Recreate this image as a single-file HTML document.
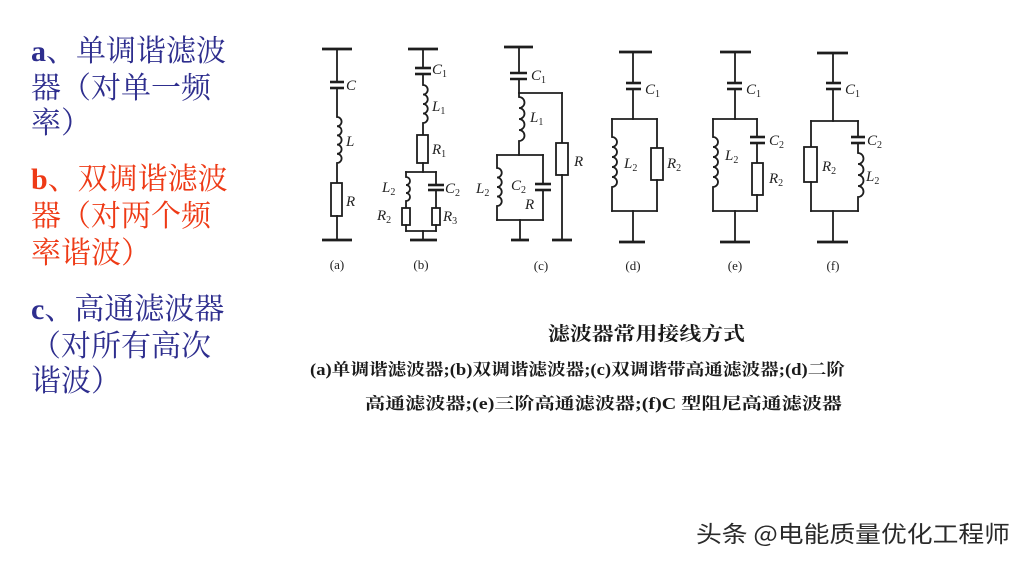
<!DOCTYPE html>
<html>
<head>
<meta charset="utf-8">
<style>
html,body{margin:0;padding:0;background:#fff;}
svg{display:block;}
.w{stroke:#1e1e1e;stroke-width:1.8;fill:none;stroke-linecap:square;}
.bar{stroke:#1e1e1e;stroke-width:2.8;fill:none;}
.cap{stroke:#1e1e1e;stroke-width:2.6;fill:none;}
.res{stroke:#1e1e1e;stroke-width:1.8;fill:#fff;}
.lb{font-family:"Liberation Serif",serif;font-style:italic;font-size:15px;fill:#1e1e1e;}
.sb{font-size:10px;font-style:normal;}
.tag{font-family:"Liberation Serif",serif;font-size:13px;fill:#1e1e1e;}
.cap1{font-family:"Liberation Serif","Noto Serif CJK SC",serif;font-weight:bold;fill:#1a1a1a;}
.lt{font-family:"Liberation Serif","Noto Serif CJK SC",serif;font-size:30px;}
.blue{fill:#2e2e8e;}
.red{fill:#ee3a16;}
</style>
</head>
<body>
<svg width="1027" height="563" viewBox="0 0 1027 563" xmlns="http://www.w3.org/2000/svg">
<rect width="1027" height="563" fill="#fff"/>

<!-- Left text -->
<g class="lt">
<text x="31" y="61" class="blue"><tspan font-weight="bold">a</tspan>、单调谐滤波</text>
<text x="31" y="98" class="blue">器（对单一频</text>
<text x="31" y="133" class="blue">率）</text>
<text x="31" y="189" class="red"><tspan font-weight="bold">b</tspan>、双调谐滤波</text>
<text x="31" y="226" class="red">器（对两个频</text>
<text x="31" y="263" class="red">率谐波）</text>
<text x="31" y="319" class="blue"><tspan font-weight="bold">c</tspan>、高通滤波器</text>
<text x="31" y="356" class="blue">（对所有高次</text>
<text x="31" y="391" class="blue">谐波）</text>
</g>

<!-- Circuit (a) -->
<g>
<line class="bar" x1="322" y1="49" x2="352" y2="49"/>
<line class="w" x1="337" y1="49" x2="337" y2="82"/>
<line class="cap" x1="330" y1="82" x2="344" y2="82"/>
<line class="cap" x1="330" y1="88" x2="344" y2="88"/>
<path class="w" d="M337 88 V117 a4.6 4.6 0 0 1 0 9.2 a4.6 4.6 0 0 1 0 9.2 a4.6 4.6 0 0 1 0 9.2 a4.6 4.6 0 0 1 0 9.2 a4.6 4.6 0 0 1 0 9.2 V183"/>
<rect class="res" x="331" y="183" width="11" height="33"/>
<line class="w" x1="337" y1="216" x2="337" y2="240"/>
<line class="bar" x1="322" y1="240" x2="352" y2="240"/>
<text class="lb" x="346" y="90">C</text>
<text class="lb" x="346" y="146">L</text>
<text class="lb" x="346" y="206">R</text>
<text class="tag" x="337" y="269" text-anchor="middle">(a)</text>
</g>

<!-- Circuit (b) -->
<g>
<line class="bar" x1="408" y1="49" x2="438" y2="49"/>
<line class="w" x1="423" y1="49" x2="423" y2="68"/>
<line class="cap" x1="415" y1="68" x2="431" y2="68"/>
<line class="cap" x1="415" y1="74" x2="431" y2="74"/>
<path class="w" d="M423 74 V85 a4.75 4.75 0 0 1 0 9.5 a4.75 4.75 0 0 1 0 9.5 a4.75 4.75 0 0 1 0 9.5 a4.75 4.75 0 0 1 0 9.5 V135"/>
<rect class="res" x="417" y="135" width="11" height="28"/>
<line class="w" x1="423" y1="163" x2="423" y2="172"/>
<line class="w" x1="406" y1="172" x2="436" y2="172"/>
<path class="w" d="M406 172 V177 a4 4 0 0 1 0 8 a4 4 0 0 1 0 8 a4 4 0 0 1 0 8 V208"/>
<rect class="res" x="402" y="208" width="8" height="17"/>
<line class="w" x1="406" y1="225" x2="406" y2="231"/>
<line class="w" x1="436" y1="172" x2="436" y2="185"/>
<line class="cap" x1="428" y1="185" x2="444" y2="185"/>
<line class="cap" x1="428" y1="190" x2="444" y2="190"/>
<line class="w" x1="436" y1="190" x2="436" y2="208"/>
<rect class="res" x="432" y="208" width="8" height="17"/>
<line class="w" x1="436" y1="225" x2="436" y2="231"/>
<line class="w" x1="406" y1="231" x2="436" y2="231"/>
<line class="w" x1="423" y1="231" x2="423" y2="240"/>
<line class="bar" x1="410" y1="240" x2="437" y2="240"/>
<text class="lb" x="432" y="74">C<tspan class="sb" dy="3">1</tspan></text>
<text class="lb" x="432" y="111">L<tspan class="sb" dy="3">1</tspan></text>
<text class="lb" x="432" y="154">R<tspan class="sb" dy="3">1</tspan></text>
<text class="lb" x="382" y="192">L<tspan class="sb" dy="3">2</tspan></text>
<text class="lb" x="445" y="193">C<tspan class="sb" dy="3">2</tspan></text>
<text class="lb" x="377" y="220">R<tspan class="sb" dy="3">2</tspan></text>
<text class="lb" x="443" y="221">R<tspan class="sb" dy="3">3</tspan></text>
<text class="tag" x="421" y="269" text-anchor="middle">(b)</text>
</g>

<!-- Circuit (c) -->
<g>
<line class="bar" x1="504" y1="47" x2="533" y2="47"/>
<line class="w" x1="519" y1="47" x2="519" y2="73"/>
<line class="cap" x1="510" y1="73" x2="527" y2="73"/>
<line class="cap" x1="510" y1="79" x2="527" y2="79"/>
<line class="w" x1="519" y1="79" x2="519" y2="93"/>
<line class="w" x1="519" y1="93" x2="562" y2="93"/>
<line class="w" x1="562" y1="93" x2="562" y2="143"/>
<rect class="res" x="556" y="143" width="12" height="32"/>
<line class="w" x1="562" y1="175" x2="562" y2="240"/>
<line class="bar" x1="552" y1="240" x2="572" y2="240"/>
<path class="w" d="M519 93 V97 a5.5 5.5 0 0 1 0 11 a5.5 5.5 0 0 1 0 11 a5.5 5.5 0 0 1 0 11 a5.5 5.5 0 0 1 0 11 V155"/>
<line class="w" x1="497" y1="155" x2="543" y2="155"/>
<path class="w" d="M497 155 V168 a4.75 4.75 0 0 1 0 9.5 a4.75 4.75 0 0 1 0 9.5 a4.75 4.75 0 0 1 0 9.5 a4.75 4.75 0 0 1 0 9.5 V220"/>
<line class="w" x1="543" y1="155" x2="543" y2="184"/>
<line class="cap" x1="535" y1="184" x2="551" y2="184"/>
<line class="cap" x1="535" y1="190" x2="551" y2="190"/>
<line class="w" x1="543" y1="190" x2="543" y2="220"/>
<line class="w" x1="497" y1="220" x2="543" y2="220"/>
<line class="w" x1="520" y1="220" x2="520" y2="240"/>
<line class="bar" x1="511" y1="240" x2="529" y2="240"/>
<text class="lb" x="531" y="80">C<tspan class="sb" dy="3">1</tspan></text>
<text class="lb" x="530" y="122">L<tspan class="sb" dy="3">1</tspan></text>
<text class="lb" x="574" y="166">R</text>
<text class="lb" x="476" y="193">L<tspan class="sb" dy="3">2</tspan></text>
<text class="lb" x="511" y="190">C<tspan class="sb" dy="3">2</tspan></text>
<text class="lb" x="525" y="209">R</text>
<text class="tag" x="541" y="270" text-anchor="middle">(c)</text>
</g>

<!-- Circuit (d) -->
<g>
<line class="bar" x1="619" y1="52" x2="652" y2="52"/>
<line class="w" x1="633" y1="52" x2="633" y2="83"/>
<line class="cap" x1="626" y1="83" x2="641" y2="83"/>
<line class="cap" x1="626" y1="89" x2="641" y2="89"/>
<line class="w" x1="633" y1="89" x2="633" y2="119"/>
<line class="w" x1="612" y1="119" x2="657" y2="119"/>
<path class="w" d="M612 119 V137 a5 5 0 0 1 0 10 a5 5 0 0 1 0 10 a5 5 0 0 1 0 10 a5 5 0 0 1 0 10 a5 5 0 0 1 0 10 V211"/>
<line class="w" x1="657" y1="119" x2="657" y2="148"/>
<rect class="res" x="651" y="148" width="12" height="32"/>
<line class="w" x1="657" y1="180" x2="657" y2="211"/>
<line class="w" x1="612" y1="211" x2="657" y2="211"/>
<line class="w" x1="633" y1="211" x2="633" y2="242"/>
<line class="bar" x1="619" y1="242" x2="645" y2="242"/>
<text class="lb" x="645" y="94">C<tspan class="sb" dy="3">1</tspan></text>
<text class="lb" x="624" y="168">L<tspan class="sb" dy="3">2</tspan></text>
<text class="lb" x="667" y="168">R<tspan class="sb" dy="3">2</tspan></text>
<text class="tag" x="633" y="270" text-anchor="middle">(d)</text>
</g>

<!-- Circuit (e) -->
<g>
<line class="bar" x1="720" y1="52" x2="751" y2="52"/>
<line class="w" x1="735" y1="52" x2="735" y2="83"/>
<line class="cap" x1="727" y1="83" x2="742" y2="83"/>
<line class="cap" x1="727" y1="89" x2="742" y2="89"/>
<line class="w" x1="735" y1="89" x2="735" y2="119"/>
<line class="w" x1="713" y1="119" x2="757" y2="119"/>
<path class="w" d="M713 119 V137 a5 5 0 0 1 0 10 a5 5 0 0 1 0 10 a5 5 0 0 1 0 10 a5 5 0 0 1 0 10 a5 5 0 0 1 0 10 V211"/>
<line class="w" x1="757" y1="119" x2="757" y2="137"/>
<line class="cap" x1="750" y1="137" x2="765" y2="137"/>
<line class="cap" x1="750" y1="143" x2="765" y2="143"/>
<line class="w" x1="757" y1="143" x2="757" y2="163"/>
<rect class="res" x="752" y="163" width="11" height="32"/>
<line class="w" x1="757" y1="195" x2="757" y2="211"/>
<line class="w" x1="713" y1="211" x2="757" y2="211"/>
<line class="w" x1="735" y1="211" x2="735" y2="242"/>
<line class="bar" x1="720" y1="242" x2="750" y2="242"/>
<text class="lb" x="746" y="94">C<tspan class="sb" dy="3">1</tspan></text>
<text class="lb" x="725" y="160">L<tspan class="sb" dy="3">2</tspan></text>
<text class="lb" x="769" y="145">C<tspan class="sb" dy="3">2</tspan></text>
<text class="lb" x="769" y="183">R<tspan class="sb" dy="3">2</tspan></text>
<text class="tag" x="735" y="270" text-anchor="middle">(e)</text>
</g>

<!-- Circuit (f) -->
<g>
<line class="bar" x1="817" y1="53" x2="848" y2="53"/>
<line class="w" x1="833" y1="53" x2="833" y2="83"/>
<line class="cap" x1="826" y1="83" x2="841" y2="83"/>
<line class="cap" x1="826" y1="89" x2="841" y2="89"/>
<line class="w" x1="833" y1="89" x2="833" y2="121"/>
<line class="w" x1="811" y1="121" x2="858" y2="121"/>
<line class="w" x1="811" y1="121" x2="811" y2="147"/>
<rect class="res" x="804" y="147" width="13" height="35"/>
<line class="w" x1="811" y1="182" x2="811" y2="211"/>
<line class="w" x1="858" y1="121" x2="858" y2="137"/>
<line class="cap" x1="851" y1="137" x2="865" y2="137"/>
<line class="cap" x1="851" y1="143" x2="865" y2="143"/>
<path class="w" d="M858 143 V153 a5.5 5.5 0 0 1 0 11 a5.5 5.5 0 0 1 0 11 a5.5 5.5 0 0 1 0 11 a5.5 5.5 0 0 1 0 11 V211"/>
<line class="w" x1="811" y1="211" x2="858" y2="211"/>
<line class="w" x1="833" y1="211" x2="833" y2="242"/>
<line class="bar" x1="817" y1="242" x2="848" y2="242"/>
<text class="lb" x="845" y="94">C<tspan class="sb" dy="3">1</tspan></text>
<text class="lb" x="822" y="171">R<tspan class="sb" dy="3">2</tspan></text>
<text class="lb" x="867" y="145">C<tspan class="sb" dy="3">2</tspan></text>
<text class="lb" x="866" y="181">L<tspan class="sb" dy="3">2</tspan></text>
<text class="tag" x="833" y="270" text-anchor="middle">(f)</text>
</g>

<!-- Caption -->
<text class="cap1" x="548" y="340" font-size="19" textLength="197" lengthAdjust="spacingAndGlyphs">滤波器常用接线方式</text>
<text class="cap1" x="310" y="375" font-size="16.5" textLength="535" lengthAdjust="spacingAndGlyphs">(a)单调谐滤波器;(b)双调谐滤波器;(c)双调谐带高通滤波器;(d)二阶</text>
<text class="cap1" x="365" y="409" font-size="16.5" textLength="477" lengthAdjust="spacingAndGlyphs">高通滤波器;(e)三阶高通滤波器;(f)C 型阻尼高通滤波器</text>

<!-- Watermark -->
<text x="696" y="542" font-family="'Noto Sans CJK SC','Liberation Sans',sans-serif" font-size="23" fill="#2a2a2a" stroke="#ffffff" stroke-width="0.6" paint-order="stroke" textLength="314" lengthAdjust="spacingAndGlyphs">头条 @电能质量优化工程师</text>
</svg>
</body>
</html>
